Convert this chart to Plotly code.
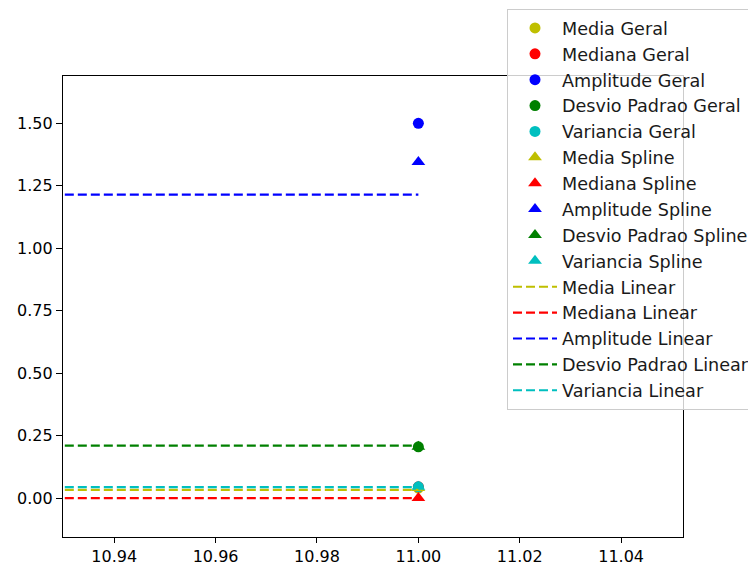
import plotly.graph_objects as go

# ---- data ----
x_point = [11.00]
x_line = [10.92, 11.00]

geral_names = ["Media Geral", "Mediana Geral", "Amplitude Geral", "Desvio Padrao Geral", "Variancia Geral"]
geral_values = [0.04, 0.045, 1.50, 0.205, 0.045]

spline_names = ["Media Spline", "Mediana Spline", "Amplitude Spline", "Desvio Padrao Spline", "Variancia Spline"]
spline_values = [0.04, 0.0, 1.345, 0.205, 0.045]

linear_names = ["Media Linear", "Mediana Linear", "Amplitude Linear", "Desvio Padrao Linear", "Variancia Linear"]
linear_values = [0.033, 0.0, 1.215, 0.21, 0.044]

colors = ["#bfbf00", "#ff0000", "#0000ff", "#008000", "#00bfbf"]

x_ticks = [10.94, 10.96, 10.98, 11.00, 11.02, 11.04]
y_ticks = [0.0, 0.25, 0.5, 0.75, 1.0, 1.25, 1.5]

FONT = "DejaVu Sans"

fig = go.Figure()

for name, v, c in zip(geral_names, geral_values, colors):
    fig.add_trace(go.Scatter(x=x_point, y=[v], mode="markers", name=name,
                             marker=dict(symbol="circle", size=11, color=c)))
for name, v, c in zip(spline_names, spline_values, colors):
    fig.add_trace(go.Scatter(x=x_point, y=[v], mode="markers", name=name,
                             marker=dict(symbol="triangle-up", size=12, color=c)))
for name, v, c in zip(linear_names, linear_values, colors):
    fig.add_trace(go.Scatter(x=x_line, y=[v, v], mode="lines", name=name,
                             line=dict(color=c, width=2.2, dash="9px,4px")))

axis_common = dict(showline=True, linecolor="black", linewidth=1.2, mirror=True,
                   ticks="outside", tickwidth=1.2, tickcolor="black",
                   showgrid=False, zeroline=False,
                   tickfont=dict(family=FONT, size=16, color="black"))

fig.update_xaxes(range=[10.9299, 11.0522], tickvals=x_ticks, ticklen=5,
                 ticktext=[f"{t:.2f}" for t in x_ticks], **axis_common)
fig.update_yaxes(range=[-0.156, 1.6895], tickvals=y_ticks, ticklen=6,
                 ticktext=[f"{t:.2f}" for t in y_ticks], **axis_common)

fig.update_layout(
    width=748, height=566,
    margin=dict(l=63, r=65, t=76, b=29, autoexpand=False),
    paper_bgcolor="white", plot_bgcolor="white",
    font=dict(family=FONT, size=16, color="black"),
    legend=dict(xref="container", yref="container", x=507/748, y=1-9/566,
                xanchor="left", yanchor="top", maxheight=560,
                bgcolor="rgba(255,255,255,0.8)", bordercolor="#cccccc", borderwidth=1,
                font=dict(family=FONT, size=17.6, color="#1a1a1a"),
                itemwidth=44, tracegroupgap=0),
)

fig.write_html("out.html")
